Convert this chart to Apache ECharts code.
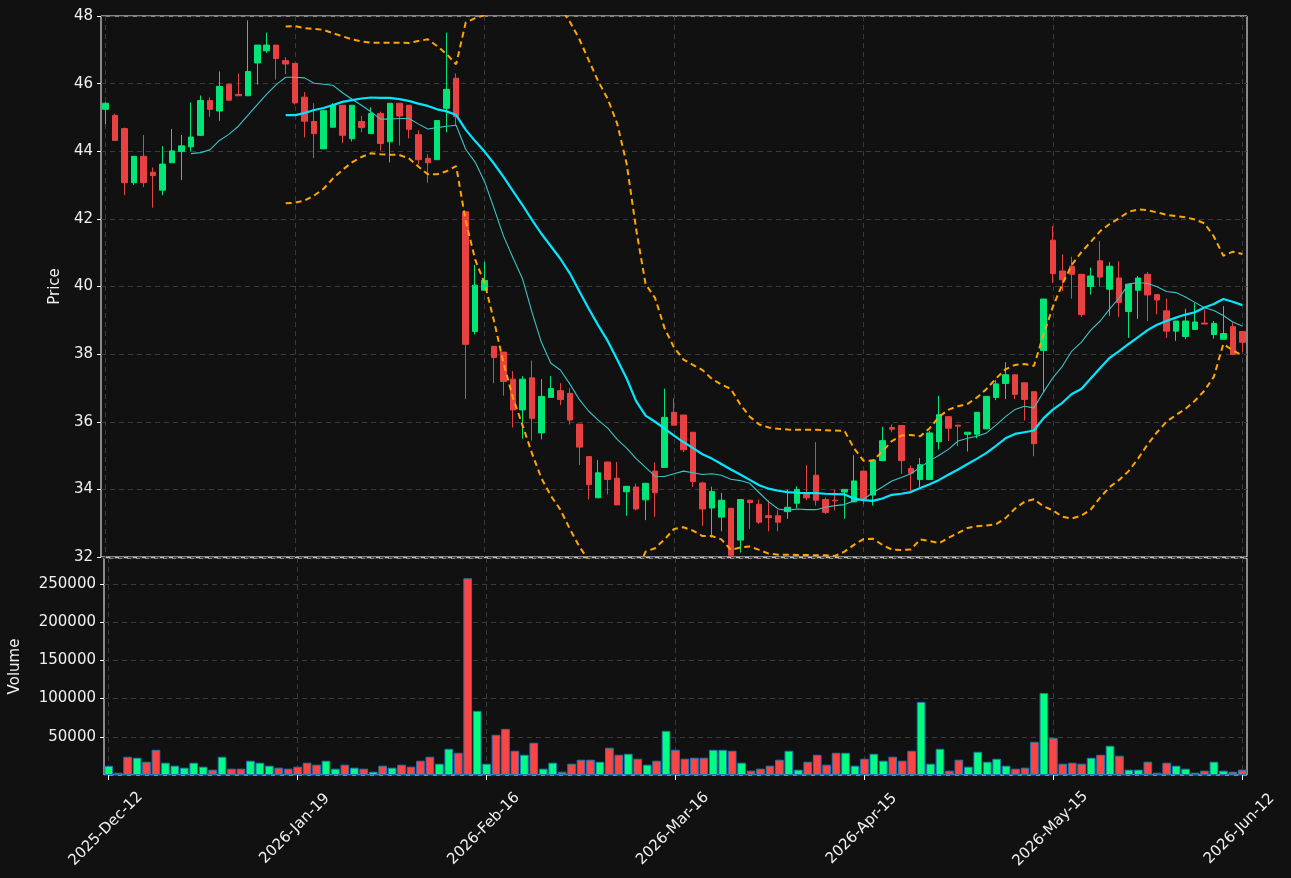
<!DOCTYPE html>
<html>
<head>
<meta charset="utf-8">
<title>Price and volume</title>
<script src="https://cdn.jsdelivr.net/npm/echarts@6/dist/echarts.min.js"></script>
<style>
  html, body { margin: 0; padding: 0; background: #111111; }
  #chart { width: 1291px; height: 878px; }
</style>
</head>
<body>
<div id="chart"></div>
<script>
// one bar per session, labels every 20 bars
const tickLabels = ['2025-Dec-12', '2026-Jan-19', '2026-Feb-16', '2026-Mar-16', '2026-Apr-15', '2026-May-15', '2026-Jun-12'];
const tickEvery = 20;

const open = [
  45.24, 45.06, 44.67, 43.07, 43.85, 43.38, 42.85, 43.66, 43.99, 44.13,
  44.47, 45.50, 45.19, 45.98, 45.68, 45.64, 46.61, 46.97, 47.14, 46.68,
  46.60, 45.60, 44.88, 44.07, 44.71, 45.36, 44.37, 44.88, 44.52, 45.12,
  44.28, 45.42, 45.36, 44.49, 43.79, 43.75, 45.27, 46.16, 42.21, 38.67,
  39.89, 38.23, 38.06, 37.26, 36.35, 37.30, 35.67, 36.72, 36.92, 36.84,
  35.93, 34.97, 33.75, 34.81, 34.33, 33.93, 34.07, 33.69, 34.54, 34.65,
  36.28, 36.20, 35.69, 34.19, 33.45, 33.18, 33.44, 32.50, 33.68, 33.56,
  33.22, 33.22, 33.34, 33.59, 33.85, 34.42, 33.70, 33.68, 33.92, 33.63,
  34.54, 33.83, 34.85, 35.83, 35.89, 34.62, 34.29, 34.29, 35.41, 36.15,
  35.90, 35.63, 35.63, 35.79, 36.72, 37.13, 37.39, 37.15, 36.89, 38.11,
  41.37, 40.46, 40.60, 40.36, 40.00, 40.76, 39.92, 40.25, 39.26, 39.89,
  40.36, 39.76, 39.28, 38.68, 38.52, 38.73, 38.92, 38.58, 38.44, 38.81,
  38.67
];
const close = [
  45.42, 44.32, 43.07, 43.85, 43.07, 43.28, 43.62, 44.01, 44.16, 44.42,
  45.50, 45.24, 45.92, 45.51, 45.64, 46.36, 47.14, 47.14, 46.74, 46.58,
  45.43, 44.89, 44.52, 45.20, 45.36, 44.47, 45.36, 44.70, 45.12, 44.23,
  45.42, 45.04, 44.65, 43.75, 43.66, 44.91, 45.83, 45.02, 38.29, 40.04,
  40.18, 37.90, 37.19, 36.35, 37.26, 36.10, 36.75, 36.98, 36.66, 36.05,
  35.25, 34.14, 34.49, 34.29, 33.54, 34.09, 33.42, 34.18, 33.90, 36.13,
  35.90, 35.17, 34.23, 33.42, 33.94, 33.68, 32.05, 33.70, 33.61, 33.03,
  33.17, 33.03, 33.47, 34.00, 33.75, 33.68, 33.32, 33.66, 34.00, 34.25,
  33.71, 34.87, 35.44, 35.78, 34.85, 34.48, 34.73, 35.67, 36.21, 35.81,
  35.87, 35.69, 36.28, 36.75, 37.12, 37.39, 36.81, 36.66, 35.35, 39.63,
  40.38, 40.20, 40.36, 39.17, 40.31, 40.28, 40.60, 39.53, 40.07, 40.25,
  39.75, 39.60, 38.68, 38.98, 38.98, 38.95, 38.89, 38.91, 38.61, 37.99,
  38.35
];
const high = [
  45.45, 45.11, 44.70, 43.85, 44.48, 43.52, 44.15, 44.66, 44.48, 45.44,
  45.65, 45.60, 46.36, 45.98, 46.30, 47.87, 47.14, 47.51, 47.14, 46.78,
  46.60, 45.75, 45.42, 45.20, 45.42, 45.36, 45.36, 45.05, 45.30, 45.17,
  45.42, 45.42, 45.36, 44.62, 43.91, 44.91, 47.51, 46.30, 42.21, 40.64,
  40.73, 38.23, 38.06, 37.50, 37.35, 37.81, 37.26, 37.35, 37.14, 36.99,
  35.93, 34.97, 34.87, 34.81, 34.81, 34.09, 34.17, 34.18, 34.80, 36.98,
  36.69, 36.20, 35.69, 34.23, 34.08, 33.90, 33.44, 33.70, 33.68, 33.70,
  33.67, 33.38, 33.99, 34.09, 34.72, 35.40, 33.76, 33.99, 34.00, 35.01,
  34.54, 34.87, 35.85, 35.92, 35.89, 34.71, 34.93, 35.73, 36.77, 36.15,
  35.90, 35.69, 36.28, 36.75, 37.24, 37.76, 37.39, 37.15, 36.89, 39.63,
  41.79, 40.95, 40.88, 40.36, 40.56, 41.34, 40.72, 40.75, 40.07, 40.31,
  40.43, 39.76, 39.64, 38.98, 39.34, 39.52, 39.32, 38.98, 39.42, 38.93,
  38.67
];
const low = [
  44.80, 44.32, 42.70, 43.00, 42.94, 42.33, 42.70, 43.66, 43.15, 43.99,
  44.47, 45.02, 44.90, 45.48, 45.64, 45.64, 45.97, 46.91, 46.12, 46.28,
  45.38, 44.41, 43.80, 44.07, 44.71, 44.24, 44.29, 44.56, 44.52, 44.02,
  43.67, 44.17, 44.38, 43.61, 43.07, 43.75, 44.56, 44.78, 36.67, 38.58,
  39.89, 37.14, 36.77, 35.83, 35.50, 35.44, 35.48, 36.72, 36.49, 35.92,
  34.72, 33.70, 33.75, 33.85, 33.54, 33.22, 33.38, 33.09, 33.19, 34.65,
  35.90, 35.10, 34.07, 32.92, 32.57, 32.76, 32.00, 32.13, 32.83, 32.98,
  32.76, 32.76, 33.13, 33.44, 33.68, 33.52, 33.27, 33.38, 33.13, 33.63,
  33.56, 33.52, 34.85, 35.69, 34.46, 33.93, 34.07, 34.29, 35.18, 35.43,
  35.28, 35.12, 35.51, 35.79, 36.64, 36.67, 36.67, 36.04, 34.98, 36.87,
  40.10, 39.86, 39.64, 39.10, 39.76, 40.00, 39.13, 39.10, 38.48, 39.04,
  38.98, 39.18, 38.48, 38.39, 38.44, 38.73, 38.89, 38.46, 38.44, 37.99,
  38.07
];
const volume = [
  12000, 3000, 23900, 22600, 17400, 33000, 16100, 12200, 9600, 16100,
  10900, 7000, 23900, 8300, 8300, 18700, 16100, 12200, 9600, 8300,
  10900, 16100, 13500, 18700, 8300, 13500, 9600, 8300, 4300, 12200,
  9600, 13500, 10900, 18700, 23900, 14800, 34300, 29100, 257400, 83900,
  14800, 52600, 60400, 31700, 26500, 42200, 8300, 16100, 4300, 14800,
  20000, 20000, 17400, 35700, 26500, 27800, 21300, 13500, 18700, 57800,
  33000, 21300, 22600, 22600, 33000, 33000, 31700, 16100, 5700, 8300,
  12200, 20000, 31700, 7000, 17400, 26500, 13500, 29100, 29100, 12200,
  21300, 27800, 18700, 23900, 18700, 31700, 95700, 14800, 34300, 5700,
  20000, 10900, 30400, 17400, 21300, 12200, 8300, 9600, 43500, 107400,
  48700, 14800, 16100, 14800, 22600, 26500, 38300, 25200, 7000, 7000,
  17400, 3000, 16100, 12200, 8300, 3000, 5700, 17400, 5700, 4300,
  7000
];

// moving averages and bands as drawn (null before the window fills)
const ma10 = [
  null, null, null, null, null, null, null, null, null, 43.93,
  43.96, 44.04, 44.32, 44.50, 44.74, 45.06, 45.38, 45.69, 45.97, 46.19,
  46.19, 46.17, 46.01, 45.98, 45.95, 45.73, 45.54, 45.36, 45.17, 44.95,
  44.95, 44.97, 44.97, 44.81, 44.66, 44.70, 44.74, 44.77, 44.06, 43.68,
  43.10, 42.31, 41.49, 40.85, 40.23, 39.24, 38.35, 37.73, 37.53, 37.12,
  36.66, 36.31, 36.05, 35.81, 35.48, 35.22, 34.91, 34.65, 34.39, 34.38,
  34.46, 34.54, 34.49, 34.44, 34.46, 34.42, 34.30, 34.26, 34.18, 33.90,
  33.63, 33.42, 33.38, 33.42, 33.40, 33.40, 33.47, 33.52, 33.55, 33.66,
  33.71, 33.90, 34.07, 34.25, 34.35, 34.46, 34.65, 34.85, 35.01, 35.19,
  35.43, 35.51, 35.57, 35.67, 35.90, 36.15, 36.36, 36.46, 36.41, 36.87,
  37.30, 37.64, 38.09, 38.35, 38.71, 38.98, 39.34, 39.66, 40.07, 40.12,
  40.09, 39.99, 39.85, 39.82, 39.69, 39.53, 39.37, 39.29, 39.14, 38.95,
  38.83
];
const ma20 = [
  null, null, null, null, null, null, null, null, null, null,
  null, null, null, null, null, null, null, null, null, 45.07,
  45.07, 45.13, 45.22, 45.28, 45.37, 45.46, 45.51, 45.56, 45.59, 45.58,
  45.58, 45.54, 45.49, 45.41, 45.34, 45.24, 45.18, 45.07, 44.64, 44.30,
  43.99, 43.63, 43.24, 42.82, 42.41, 41.97, 41.56, 41.19, 40.82, 40.39,
  39.86, 39.34, 38.85, 38.39, 37.84, 37.28, 36.61, 36.18, 36.00, 35.80,
  35.59, 35.40, 35.22, 35.04, 34.91, 34.75, 34.59, 34.44, 34.28, 34.12,
  34.02, 33.96, 33.92, 33.90, 33.89, 33.89, 33.87, 33.86, 33.85, 33.73,
  33.68, 33.66, 33.73, 33.84, 33.87, 33.92, 34.04, 34.15, 34.28, 34.44,
  34.59, 34.75, 34.91, 35.08, 35.29, 35.51, 35.64, 35.69, 35.74, 36.10,
  36.36, 36.56, 36.82, 36.97, 37.28, 37.59, 37.89, 38.09, 38.30, 38.50,
  38.71, 38.87, 38.98, 39.08, 39.17, 39.24, 39.38, 39.48, 39.63, 39.55,
  39.45
];
const bandUpper = [
  null, null, null, null, null, null, null, null, null, null,
  null, null, null, null, null, null, null, null, null, 47.69,
  47.70, 47.64, 47.62, 47.59, 47.49, 47.40, 47.31, 47.25, 47.21, 47.21,
  47.21, 47.21, 47.20, 47.26, 47.31, 47.11, 46.87, 46.57, 47.80, 47.94,
  48.02, 48.28, 48.75, 48.93, 48.92, 48.87, 48.79, 48.57, 48.24, 47.83,
  47.32, 46.69, 46.07, 45.55, 44.82, 43.63, 41.70, 40.07, 39.66, 38.77,
  38.20, 37.84, 37.68, 37.53, 37.27, 37.10, 36.97, 36.51, 36.15, 35.92,
  35.83, 35.79, 35.77, 35.76, 35.76, 35.76, 35.75, 35.74, 35.73, 35.22,
  34.85, 34.85, 35.12, 35.43, 35.59, 35.61, 35.57, 35.81, 36.15, 36.36,
  36.46, 36.53, 36.72, 36.97, 37.28, 37.55, 37.68, 37.71, 37.65, 38.56,
  39.40, 40.07, 40.64, 41.01, 41.32, 41.64, 41.85, 42.02, 42.21, 42.28,
  42.26, 42.19, 42.12, 42.08, 42.05, 41.98, 41.87, 41.48, 40.91, 41.03,
  40.96
];
const bandLower = [
  null, null, null, null, null, null, null, null, null, null,
  null, null, null, null, null, null, null, null, null, 42.46,
  42.48, 42.54, 42.69, 42.89, 43.20, 43.45, 43.67, 43.83, 43.94, 43.91,
  43.90, 43.89, 43.79, 43.55, 43.32, 43.32, 43.41, 43.56, 41.95, 40.80,
  40.10, 38.98, 37.73, 36.71, 35.90, 35.07, 34.33, 33.81, 33.40, 32.83,
  32.31, 31.90, 31.63, 31.23, 30.86, 30.93, 31.52, 32.16, 32.26, 32.52,
  32.83, 32.88, 32.78, 32.62, 32.62, 32.52, 32.21, 32.28, 32.31, 32.21,
  32.10, 32.07, 32.07, 32.06, 32.06, 32.05, 32.05, 32.03, 32.16, 32.36,
  32.53, 32.54, 32.36, 32.22, 32.21, 32.22, 32.52, 32.47, 32.41, 32.57,
  32.71, 32.86, 32.91, 32.93, 32.97, 33.15, 33.43, 33.63, 33.71, 33.50,
  33.38, 33.19, 33.14, 33.22, 33.40, 33.76, 34.07, 34.28, 34.54, 34.91,
  35.33, 35.69, 36.00, 36.20, 36.38, 36.62, 36.92, 37.33, 38.30, 38.11,
  37.96
];

const categories = close.map((_, i) => String(i));

const UP = '#00e676';
const DOWN = '#e84142';
const VOL_UP = '#00ff80';
const VOL_DOWN = '#ff4444';
const GRID_LINE = { show: true, lineStyle: { color: '#3a3a3a', type: [5, 4], width: 1 } };
const TEXT = '#f0f0f0';
const FONT = 'DejaVu Sans';
const FONT_SIZE = 15;

function xAxisFor(gridIndex, withLabels) {
  return {
    type: 'category',
    gridIndex,
    data: categories,
    boundaryGap: true,
    axisLine: { show: false },
    axisTick: {
      show: withLabels,
      interval: tickEvery - 1,
      alignWithLabel: true,
      length: 5,
      lineStyle: { color: '#ffffff' },
    },
    axisLabel: {
      show: withLabels,
      interval: tickEvery - 1,
      rotate: 45,
      align: 'center',
      verticalAlign: 'middle',
      margin: 51,
      padding: [0, 8, 0, 0],
      color: TEXT,
      fontSize: FONT_SIZE,
      fontFamily: FONT,
      formatter: (v, idx) => tickLabels[idx / tickEvery] ?? '',
    },
    splitLine: { ...GRID_LINE, interval: tickEvery - 1, alignWithLabel: true },
  };
}

function lineSeries(name, data, style) {
  return {
    name,
    type: 'line',
    data,
    xAxisIndex: 0,
    yAxisIndex: 0,
    showSymbol: false,
    symbol: 'none',
    clip: true,
    lineStyle: style,
    z: 3,
  };
}

function buildOption() {
  const candles = open.map((o, i) => [o, close[i], low[i], high[i]]);
  const volBars = volume.map((v, i) => ({
    value: v,
    itemStyle: { color: close[i] >= open[i] ? VOL_UP : VOL_DOWN },
  }));

  return {
    animation: false,
    backgroundColor: '#111111',
    textStyle: { fontFamily: FONT },
    grid: [
      { left: 101, right: 44, top: 16, height: 541, show: true, borderColor: '#ffffff', borderWidth: 1, backgroundColor: 'transparent' },
      { left: 101, right: 44, top: 558, height: 217, show: true, borderColor: '#ffffff', borderWidth: 1, backgroundColor: 'transparent' },
    ],
    xAxis: [xAxisFor(0, false), xAxisFor(1, true)],
    yAxis: [
      {
        type: 'value',
        gridIndex: 0,
        min: 32,
        max: 48,
        interval: 2,
        name: 'Price',
        nameLocation: 'middle',
        nameGap: 34,
        nameTextStyle: { color: TEXT, fontSize: FONT_SIZE, fontFamily: FONT },
        axisLine: { show: false },
        axisTick: { show: true, length: 4, lineStyle: { color: '#ffffff' } },
        axisLabel: { color: TEXT, fontSize: FONT_SIZE, fontFamily: FONT, margin: 8 },
        splitLine: GRID_LINE,
      },
      {
        type: 'value',
        gridIndex: 1,
        min: 0,
        max: 284000,
        interval: 50000,
        name: 'Volume',
        nameLocation: 'middle',
        nameGap: 81,
        nameTextStyle: { color: TEXT, fontSize: FONT_SIZE, fontFamily: FONT },
        axisLine: { show: false },
        axisTick: { show: true, length: 4, lineStyle: { color: '#ffffff' } },
        axisLabel: {
          color: TEXT,
          fontSize: FONT_SIZE,
          fontFamily: FONT,
          margin: 8,
          showMinLabel: false,
          showMaxLabel: false,
          formatter: (v) => String(v),
        },
        splitLine: GRID_LINE,
      },
    ],
    series: [
      {
        name: 'Price',
        type: 'candlestick',
        xAxisIndex: 0,
        yAxisIndex: 0,
        data: candles,
        barWidth: 6,
        itemStyle: {
          color: UP,
          color0: DOWN,
          borderColor: UP,
          borderColor0: DOWN,
          borderWidth: 1,
        },
        z: 2,
      },
      lineSeries('MA10', ma10, { color: '#3cc4c4', width: 1.1 }),
      lineSeries('MA20', ma20, { color: '#00e8ff', width: 2.2 }),
      lineSeries('Upper', bandUpper, { color: '#ffa500', width: 2, type: [6, 4] }),
      lineSeries('Lower', bandLower, { color: '#ffa500', width: 2, type: [6, 4] }),
      {
        name: 'Volume',
        type: 'bar',
        xAxisIndex: 1,
        yAxisIndex: 1,
        data: volBars,
        barWidth: '92%',
        itemStyle: { borderColor: '#1f77b4', borderWidth: 1 },
      },
    ],
  };
}

const chart = echarts.init(document.getElementById('chart'), null, { renderer: 'canvas' });
chart.setOption(buildOption());
window.addEventListener('resize', () => chart.resize());
</script>
</body>
</html>
